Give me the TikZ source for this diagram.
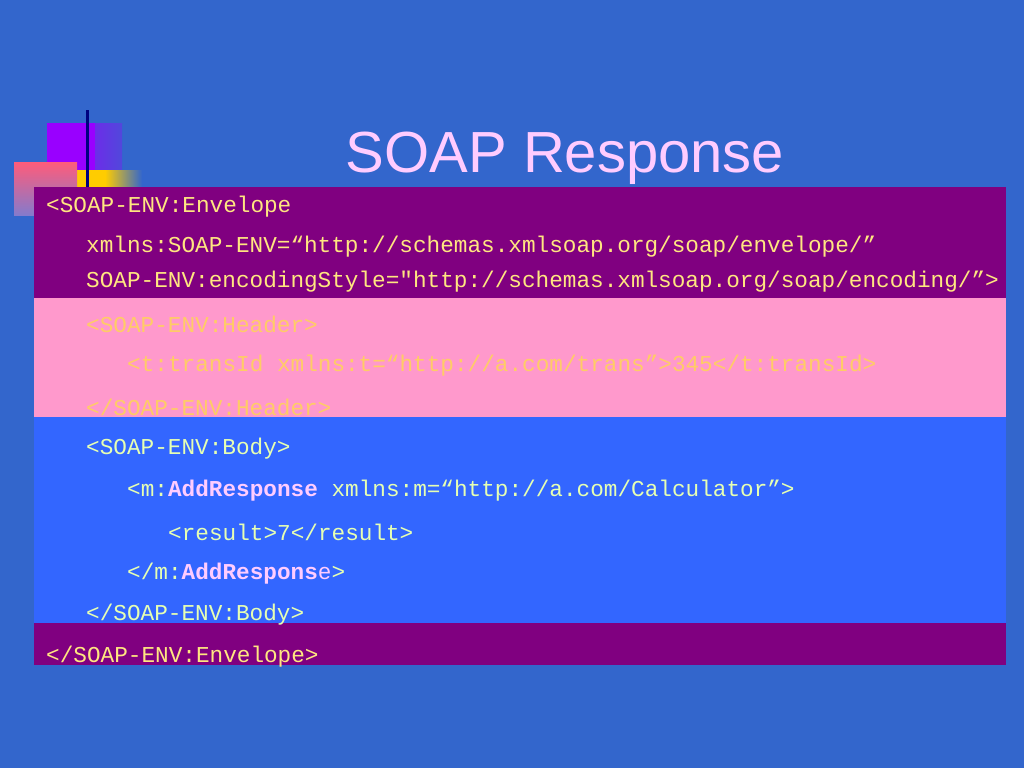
\documentclass[tikz,border=0pt]{standalone}
\usepackage{fontspec}
\setmainfont{Liberation Sans}
\setmonofont{Liberation Mono}
\definecolor{bg}{HTML}{3366CC}
\definecolor{env}{HTML}{800080}
\definecolor{hdr}{HTML}{FF99CC}
\definecolor{bdy}{HTML}{3366FF}
\definecolor{ytxt}{HTML}{FFCC66}
\definecolor{etxt}{HTML}{FFE680}
\definecolor{gtxt}{HTML}{E6FFB3}
\definecolor{ptxt}{HTML}{FFCCFF}
\definecolor{vio}{HTML}{9900FF}
\definecolor{yel}{HTML}{FFCC00}
\definecolor{navy}{HTML}{000080}
\tikzset{x=1pt,y=-1pt,
 code/.style={anchor=west,inner sep=0,font=\ttfamily\fontsize{22.7}{24}\selectfont}}
\begin{document}
\begin{tikzpicture}
\fill[bg] (0,0) rectangle (1024,768);
\useasboundingbox (0,0) rectangle (1024,768);
% decoration
\shade[left color=vio,right color=vio!30!bg] (47,123) rectangle (122,187);
\fill[vio] (47,123) rectangle (95,187);
\shade[top color=yel,bottom color=yel] (77,170) rectangle (110,187);
\shade[left color=yel,right color=bg] (105,170) rectangle (142,187);
\shade[top color=hdr!60!red,bottom color=hdr!40!bg] (14,162) rectangle (77,215);
\fill[navy] (85.5,110) rectangle (88.5,187);
% title
\node[font=\fontsize{58}{62}\selectfont,text=ptxt] (title) at (565,158) {SOAP Response};
% bands
\fill[env] (34,187) rectangle (1006,298);
\fill[hdr] (34,298) rectangle (1006,417);
\fill[bdy] (34,417) rectangle (1006,623);
\fill[env] (34,623) rectangle (1006,665);
% text
\node[code,text=etxt] (l1) at (46,207) {<SOAP-ENV:Envelope};
\node[code,text=etxt] (l2) at (86,247) {xmlns:SOAP-ENV=“http://schemas.xmlsoap.org/soap/envelope/”};
\node[code,text=etxt] (l3) at (86,282) {SOAP-ENV:encodingStyle="http://schemas.xmlsoap.org/soap/encoding/”>};
\node[code,text=ytxt] (l4) at (86,324) {<SOAP-ENV:Header>};
\node[code,text=ytxt] (l5) at (127,366) {<t:transId xmlns:t=“http://a.com/trans”>345</t:transId>};
\node[code,text=ytxt] (l6) at (86,407) {</SOAP-ENV:Header>};
\node[code,text=gtxt] (l7) at (86,449) {<SOAP-ENV:Body>};
\node[code,text=gtxt] (l8) at (127,491) {<m:\textcolor{ptxt}{\bfseries AddResponse} xmlns:m=“http://a.com/Calculator”>};
\node[code,text=gtxt] (l9) at (168,532) {<result>7</result>};
\node[code,text=gtxt] (l10) at (127,574) {</m:\textcolor{ptxt}{\bfseries AddRespons}\textcolor{ptxt}{e}>};
\node[code,text=gtxt] (l11) at (86,615) {</SOAP-ENV:Body>};
\node[code,text=etxt] (l12) at (46,657) {</SOAP-ENV:Envelope>};
\end{tikzpicture}
\end{document}
